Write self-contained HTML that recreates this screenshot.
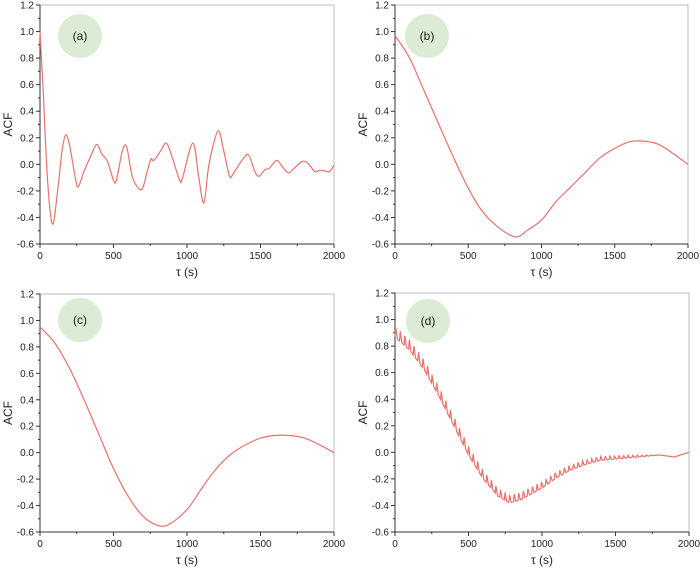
<!DOCTYPE html>
<html><head><meta charset="utf-8">
<style>
html,body{margin:0;padding:0;background:#fff;}
svg{display:block;font-family:"Liberation Sans",Arial,sans-serif;}
</style></head>
<body>
<svg id="chart" width="700" height="571" viewBox="0 0 700 571" xmlns="http://www.w3.org/2000/svg"></svg>
<script>
const xTicks=[0,500,1000,1500,2000];
const yTicks=[-0.6,-0.4,-0.2,0.0,0.2,0.4,0.6,0.8,1.0,1.2];
const panelLabels=["(a)","(b)","(c)","(d)"];
const aT=[0,20,50,85,120,150,175,200,240,260,300,340,385,420,460,500,520,560,590,630,690,730,755,775,820,860,900,950,970,1040,1080,1115,1150,1210,1250,1290,1320,1380,1420,1460,1490,1530,1560,1610,1650,1690,1720,1780,1820,1870,1900,1940,1970,2000];
const aV=[1.0,0.6,-0.1,-0.45,-0.2,0.1,0.22,0.15,-0.1,-0.17,-0.05,0.05,0.15,0.08,0.02,-0.12,-0.12,0.1,0.13,-0.1,-0.19,-0.05,0.04,0.03,0.1,0.16,0.05,-0.12,-0.1,0.16,-0.1,-0.29,0.0,0.25,0.1,-0.09,-0.06,0.04,0.07,-0.05,-0.09,-0.04,-0.03,0.03,-0.02,-0.065,-0.04,0.02,0.01,-0.055,-0.045,-0.05,-0.055,-0.005];
const bT=[0,100,200,300,400,500,600,700,800,850,900,1000,1100,1200,1300,1400,1500,1600,1700,1800,1900,2000];
const bV=[0.97,0.8,0.55,0.3,0.05,-0.18,-0.36,-0.47,-0.54,-0.54,-0.5,-0.42,-0.28,-0.17,-0.06,0.05,0.12,0.17,0.175,0.15,0.08,0.0];
const cT=[0,100,200,300,400,500,600,700,800,880,1000,1100,1200,1300,1400,1500,1600,1700,1800,1900,2000];
const cV=[0.95,0.83,0.64,0.4,0.14,-0.12,-0.33,-0.48,-0.55,-0.54,-0.43,-0.27,-0.12,-0.01,0.06,0.11,0.13,0.13,0.11,0.06,0.0];
const dT=[0,100,200,300,400,500,600,700,780,850,1000,1100,1200,1300,1400,1500,1600,1700,1800,1900,2000];
const dV=[0.87,0.77,0.62,0.42,0.2,-0.02,-0.2,-0.33,-0.38,-0.36,-0.27,-0.19,-0.13,-0.09,-0.06,-0.05,-0.04,-0.03,-0.02,-0.035,0.0];
const dSpikeT=[0,500,800,1200,1600,1800,2000];
const dSpikeA=[0.08,0.07,0.06,0.04,0.02,0.0,0.0];
const dSpikePeriod=31;

const NS="http://www.w3.org/2000/svg";
const svg=document.getElementById('chart');
function mk(tag,attrs,parent){const e=document.createElementNS(NS,tag);for(const k in attrs)e.setAttribute(k,attrs[k]);(parent||svg).appendChild(e);return e;}
function lerp(ts,vs,t){for(let i=0;i<ts.length-1;i++){if(t<=ts[i+1]){const f=(t-ts[i])/(ts[i+1]-ts[i]);return vs[i]+f*(vs[i+1]-vs[i]);}}return vs[vs.length-1];}
function smoothPath(pts){let d="M"+pts[0][0].toFixed(1)+","+pts[0][1].toFixed(1);
 for(let i=0;i<pts.length-1;i++){const p0=pts[Math.max(0,i-1)],p1=pts[i],p2=pts[i+1],p3=pts[Math.min(pts.length-1,i+2)];
 const c1=[p1[0]+(p2[0]-p0[0])/6,p1[1]+(p2[1]-p0[1])/6],c2=[p2[0]-(p3[0]-p1[0])/6,p2[1]-(p3[1]-p1[1])/6];
 d+=" C"+c1[0].toFixed(1)+","+c1[1].toFixed(1)+" "+c2[0].toFixed(1)+","+c2[1].toFixed(1)+" "+p2[0].toFixed(1)+","+p2[1].toFixed(1);}return d;}

const panels=[
 {x0:40,x1:334,yTop:5,yBot:244,cx:80,cy:36},
 {x0:395,x1:688,yTop:5,yBot:244,cx:427,cy:36},
 {x0:40,x1:334,yTop:294,yBot:532,cx:80,cy:320},
 {x0:395,x1:689,yTop:293,yBot:532,cx:428,cy:321}
];
const series=[[aT,aV],[bT,bV],[cT,cV],[dT,dV]];

panels.forEach((p,pi)=>{
 const g=mk('g',{});
 
 
 const X=t=>p.x0+(t-0)/2000*(p.x1-p.x0);
 const Y=v=>p.yBot-(v+0.6)/1.8*(p.yBot-p.yTop);
 const circ=mk('circle',{cx:p.cx,cy:p.cy,r:22,fill:'#dcebd3'},g);
 
 
 const lab=mk('text',{x:p.cx,y:p.cy+4,'font-size':12,'text-anchor':'middle',fill:'#222'},g);
 lab.textContent=panelLabels[pi];
 
 
 mk('rect',{x:p.x0,y:p.yTop,width:p.x1-p.x0,height:p.yBot-p.yTop,fill:'none',stroke:'#bbb','stroke-width':1},g);
 mk('line',{x1:p.x0,y1:p.yTop,x2:p.x0,y2:p.yBot,stroke:'#333','stroke-width':1},g);
 mk('line',{x1:p.x0,y1:p.yBot,x2:p.x1,y2:p.yBot,stroke:'#333','stroke-width':1},g);
 xTicks.forEach(t=>{const x=X(t);mk('line',{x1:x,y1:p.yBot,x2:x,y2:p.yBot+4,stroke:'#333'},g);
  const tx=mk('text',{x:x,y:p.yBot+15,'font-size':10,'text-anchor':'middle',fill:'#222'},g);tx.textContent=t;
  });
 for(let t=250;t<2000;t+=500){const x=X(t);mk('line',{x1:x,y1:p.yBot,x2:x,y2:p.yBot+2,stroke:'#333'},g);}
 yTicks.forEach(v=>{const y=Y(v);mk('line',{x1:p.x0-4,y1:y,x2:p.x0,y2:y,stroke:'#333'},g);
  const tx=mk('text',{x:p.x0-6,y:y+3.5,'font-size':10,'text-anchor':'end',fill:'#222'},g);tx.textContent=v.toFixed(1);
  });
 for(let v=-0.5;v<1.2;v+=0.2){const y=Y(v);mk('line',{x1:p.x0-2,y1:y,x2:p.x0,y2:y,stroke:'#333'},g);}
 const xt=mk('text',{x:(p.x0+p.x1)/2,y:p.yBot+32,'font-size':12,'text-anchor':'middle',fill:'#222'},g);
 xt.textContent='τ (s)';
 
 const yc=(p.yTop+p.yBot)/2;
 const yt=mk('text',{x:p.x0-28,y:yc,'font-size':12,'text-anchor':'middle',fill:'#222',transform:'rotate(-90 '+(p.x0-28)+' '+yc+')'},g);
 yt.textContent='ACF';
 
 const [ts,vs]=series[pi];
 let d;
 if(pi<3){d=smoothPath(ts.map((t,i)=>[X(t),Y(vs[i])]));}
 else{
  let pts=[];
  for(let t=0;t<=2000;t+=2){
   const base=lerp(ts,vs,t);const amp=lerp(dSpikeT,dSpikeA,t);
   const ph=(t%dSpikePeriod)/dSpikePeriod;
   const v=base+amp*(ph<0.15?ph/0.15:Math.max(0,1-(ph-0.15)/0.35))*1.0;
   pts.push(X(t).toFixed(1)+","+Y(v).toFixed(1));
  }
  d="M"+pts.join(" L");
 }
 const path=mk('path',{d:d,fill:'none',stroke:'#e8716d','stroke-width':1.2},g);
 
 
});
</script>
</body></html>
